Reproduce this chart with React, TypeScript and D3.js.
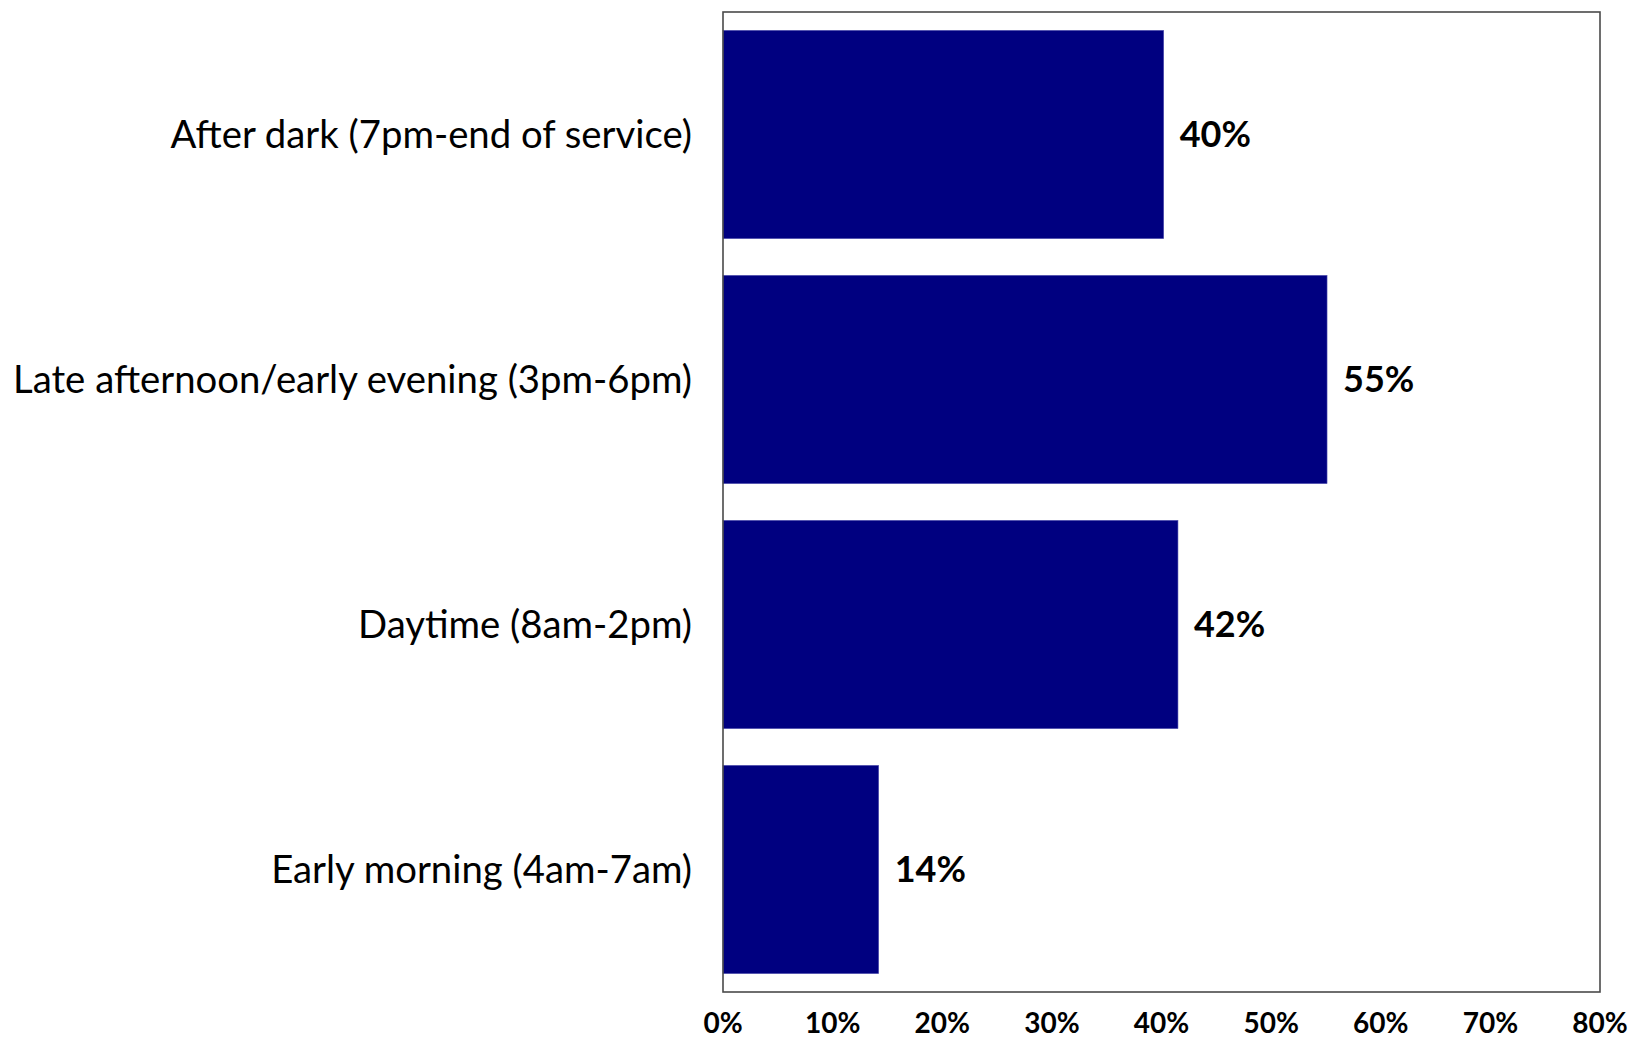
import React, { useEffect, useRef } from "react";
import * as d3 from "d3";

const categories = [
  "After dark (7pm-end of service)",
  "Late afternoon/early evening (3pm-6pm)",
  "Daytime (8am-2pm)",
  "Early morning (4am-7am)",
];
const values = [40.2, 55.1, 41.5, 14.2];
const tickValues = [0, 10, 20, 30, 40, 50, 60, 70, 80];

const W = 1632;
const H = 1041;
const FONT = "Lato, 'Open Sans', sans-serif";

export default function App() {
  const ref = useRef<SVGSVGElement | null>(null);

  useEffect(() => {
    const svg = d3.select(ref.current);
    svg.selectAll("*").remove();

    const left = 723, right = 1600, top = 12, bottom = 992;
    const x = d3.scaleLinear().domain([0, 80]).range([left, right]);
    const y = d3.scaleBand().domain(categories).range([top, bottom]).paddingInner(0.15).paddingOuter(0.075);

    svg.append("rect").attr("x", 0).attr("y", 0).attr("width", W).attr("height", H).attr("fill", "#fff");

    svg.append("g").selectAll("rect").data(values).join("rect")
      .attr("x", x(0))
      .attr("y", (_, i) => y(categories[i])!)
      .attr("width", (d) => x(d) - x(0))
      .attr("height", y.bandwidth())
      .attr("fill", "#000080")
      .attr("stroke", "#5050b0")
      .attr("stroke-width", 0.6);

    svg.append("rect")
      .attr("x", left).attr("y", top)
      .attr("width", right - left).attr("height", bottom - top)
      .attr("fill", "none").attr("stroke", "#4a4a4a").attr("stroke-width", 1.6);

    svg.append("g").selectAll("text").data(values).join("text")
      .attr("x", (d) => x(d) + 16)
      .attr("y", (_, i) => y(categories[i])! + y.bandwidth() / 2)
      .attr("dy", "0.36em")
      .attr("font-family", FONT)
      .attr("font-weight", "bold")
      .attr("font-size", 36)
      .attr("fill", "#000")
      .text((d) => `${Math.round(d)}%`);

    svg.append("g").selectAll("text").data(categories).join("text")
      .attr("x", 692)
      .attr("y", (d) => y(d)! + y.bandwidth() / 2)
      .attr("dy", "0.36em")
      .attr("text-anchor", "end")
      .attr("font-family", FONT)
      .attr("font-size", 38.3)
      .attr("fill", "#000")
      .text((d) => d);

    svg.append("g").selectAll("text").data(tickValues).join("text")
      .attr("x", (d) => x(d))
      .attr("y", 1033)
      .attr("text-anchor", "middle")
      .attr("font-family", FONT)
      .attr("font-weight", "bold")
      .attr("font-size", 28)
      .attr("fill", "#000")
      .text((d) => `${d}%`);
  }, []);

  return (
    <svg
      ref={ref}
      width={W}
      height={H}
      style={{ position: "absolute", left: 0, top: 0, display: "block" }}
    />
  );
}
